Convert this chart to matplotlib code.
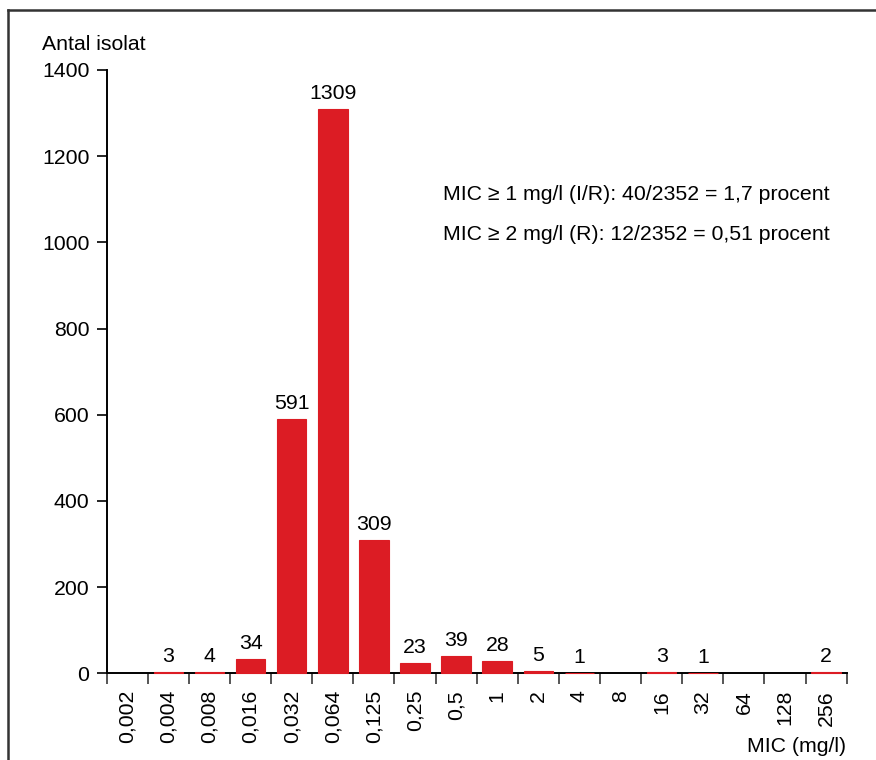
import numpy as np
import matplotlib
matplotlib.use('Agg')
import matplotlib.pyplot as plt
from matplotlib.lines import Line2D

plt.rcParams['font.family'] = ['Liberation Sans', 'DejaVu Sans']

mic_labels = ['0,002', '0,004', '0,008', '0,016', '0,032', '0,064', '0,125', '0,25',
              '0,5', '1', '2', '4', '8', '16', '32', '64', '128', '256']
counts = [0, 3, 4, 34, 591, 1309, 309, 23, 39, 28, 5, 1, 0, 3, 1, 0, 0, 2]
notes = ['MIC \u2265 1 mg/l (I/R): 40/2352 = 1,7 procent',
         'MIC \u2265 2 mg/l (R): 12/2352 = 0,51 procent']

fs = 15.3
red = '#dc1c24'

fig = plt.figure(figsize=(8.76, 7.6), dpi=100)
ax = fig.add_axes([0.1218, 0.1141, 0.8447, 0.7938])

x = np.arange(len(counts))
# bars sit on top of the x axis line, so even the tiny ones show as red
bars = ax.bar(x, counts, width=0.72, color=red, edgecolor=red, linewidth=0.8, zorder=3)
for b, c in zip(bars, counts):
    b.set_clip_on(False)
    if c == 0:
        b.set_visible(False)

# count labels above the bars (zero bars get none)
for xi, c in zip(x, counts):
    if c > 0:
        ax.text(xi, c + 14, str(c), ha='center', va='bottom', fontsize=fs)

ax.set_xlim(-0.5, len(counts) - 0.5)
ax.set_ylim(0, 1400)
ax.set_yticks(range(0, 1401, 200))
ax.tick_params(axis='y', length=7, width=1.2, labelsize=fs, pad=5.5)

ax.set_xticks(x)
ax.set_xticklabels(mic_labels, rotation=90, fontsize=fs)
ax.tick_params(axis='x', which='major', length=0, pad=12)
ax.set_xticks(np.arange(-0.5, len(counts)), minor=True)
ax.tick_params(axis='x', which='minor', length=8, width=1.4, color='#555555')

for s in ['top', 'right']:
    ax.spines[s].set_visible(False)
ax.spines['left'].set_linewidth(1.4)
ax.spines['bottom'].set_linewidth(1.4)

fig.text(42 / 876, 1 - 44 / 760, 'Antal isolat', fontsize=fs, va='center', ha='left')
fig.text(846 / 876, 1 - 746 / 760, 'MIC (mg/l)', fontsize=fs, va='center', ha='right')

fig.text(443 / 876, 1 - 195 / 760, notes[0], fontsize=fs, va='center', ha='left')
fig.text(443 / 876, 1 - 235 / 760, notes[1], fontsize=fs, va='center', ha='left')

# frame around the figure (top and left edges only visible)
fig.add_artist(Line2D([8 / 876, 8 / 876], [0, 1 - 10 / 760], color='#333333', lw=1.8))
fig.add_artist(Line2D([8 / 876, 1], [1 - 10 / 760, 1 - 10 / 760], color='#333333', lw=1.8))

fig.savefig('out.png', dpi=100)
